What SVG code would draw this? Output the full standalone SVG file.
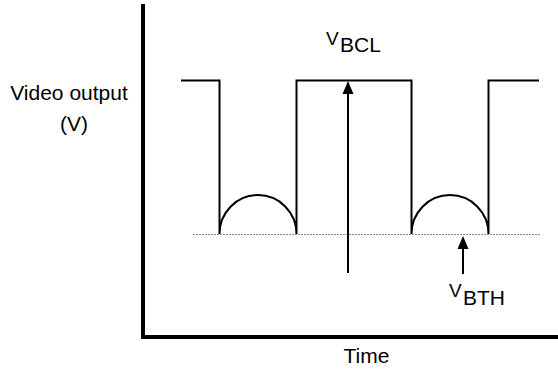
<svg xmlns="http://www.w3.org/2000/svg" width="558" height="369" viewBox="0 0 558 369">
<defs>
<style>
text{font-family:"Liberation Sans",Arial,sans-serif;fill:#000}
.axis{stroke:#000;stroke-width:4;fill:none}
.wave{stroke:#000;stroke-width:2;fill:none;stroke-linejoin:miter}
.dot{stroke:#888;stroke-width:1.2;stroke-dasharray:2 1;fill:none}
.arr{stroke:#000;stroke-width:2;fill:none}
</style>
</defs>
<rect width="558" height="369" fill="#fff"/>
<g id="axes">
<path class="axis" d="M143 4 V339 M141 337 H558"/>
</g>
<g id="waveform">
<path class="wave" d="M181 80.5 H219.5 V234 A38.5 39 0 0 1 296.5 234 V80.5 H411.5 V234 A38.5 39 0 0 1 488.5 234 V80.5 H539"/>
</g>
<g id="threshold">
<path class="dot" d="M193 234.5 H541"/>
</g>
<g id="connectors">
<path class="arr" d="M348 273 V93"/>
<polygon points="348,81 342.5,94 353.5,94" fill="#000"/>
<path class="arr" d="M463 274 V247"/>
<polygon points="463,236 457.5,249 468.5,249" fill="#000"/>
</g>
<g id="labels">
<text x="69" y="100" font-size="21" text-anchor="middle">Video output</text>
<text x="74" y="131" font-size="21" text-anchor="middle">(V)</text>
<text x="326" y="45" font-size="19">V<tspan x="340" y="52" font-size="21">BCL</tspan></text>
<text x="449" y="297" font-size="19">V<tspan x="463" y="305" font-size="21">BTH</tspan></text>
<text x="366.5" y="363" font-size="21" text-anchor="middle">Time</text>
</g>
</svg>
